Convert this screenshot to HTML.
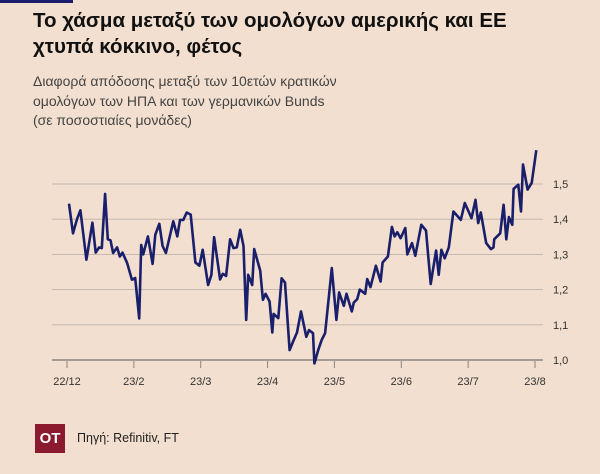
<!DOCTYPE html>
<html><head><meta charset="utf-8"><style>
body{margin:0;background:#f2dfcf;}
#wrap{position:relative;width:600px;height:474px;background:#f2dfcf;font-family:"Liberation Sans","DejaVu Sans",sans-serif;overflow:hidden}
.t{position:absolute;white-space:nowrap}
</style></head><body>
<div id="wrap">
<div class="t" style="left:0;top:0;width:73px;height:3px;background:#1a1f6b"></div>
<div class="t" style="left:33px;top:8px;font-size:20.5px;font-weight:bold;line-height:26px;color:#111">Το χάσμα μεταξύ των ομολόγων αμερικής και ΕΕ<br>χτυπά κόκκινο, φέτος</div>
<div class="t" style="left:33px;top:72px;font-size:14px;line-height:19.5px;color:#444">Διαφορά απόδοσης μεταξύ των 10ετών κρατικών<br>ομολόγων των ΗΠΑ και των γερμανικών Bunds<br>(σε ποσοστιαίες μονάδες)</div>
<svg id="chart" width="600" height="474" style="position:absolute;left:0;top:0"></svg>
<div class="t" style="left:35px;top:424px;width:30px;height:29px;background:#8b1a2f;color:#fff;font-weight:bold;font-size:15px;line-height:29px;text-align:center">OT</div>
<div class="t" style="left:77px;top:431px;font-size:12.5px;color:#222">Πηγή: Refinitiv, FT</div>
</div>
<script>
const monthLabels=["22/12","23/2","23/3","23/4","23/5","23/6","23/7","23/8"];
const yTicks=[1.0,1.1,1.2,1.3,1.4,1.5];
const months=[0.03,0.09,0.15,0.20,0.29,0.38,0.43,0.48,0.52,0.57,0.61,0.65,0.69,0.75,0.79,0.83,0.90,0.97,1.02,1.08,1.11,1.14,1.21,1.28,1.32,1.38,1.43,1.48,1.59,1.65,1.69,1.74,1.79,1.85,1.92,1.98,2.03,2.11,2.16,2.20,2.29,2.33,2.38,2.44,2.49,2.54,2.59,2.64,2.68,2.71,2.77,2.80,2.89,2.93,2.97,3.03,3.07,3.09,3.16,3.21,3.26,3.33,3.38,3.44,3.50,3.58,3.62,3.68,3.70,3.76,3.81,3.86,3.96,4.03,4.07,4.14,4.18,4.26,4.29,4.34,4.38,4.46,4.49,4.54,4.62,4.69,4.72,4.80,4.86,4.90,4.94,4.99,5.06,5.09,5.16,5.21,5.30,5.37,5.44,5.52,5.56,5.60,5.65,5.71,5.78,5.89,5.95,6.05,6.11,6.15,6.19,6.27,6.34,6.38,6.39,6.48,6.53,6.57,6.61,6.66,6.68,6.75,6.79,6.82,6.89,6.95,7.02];
const spread=[1.444,1.36,1.40,1.425,1.285,1.39,1.305,1.32,1.318,1.472,1.343,1.34,1.304,1.32,1.294,1.305,1.275,1.228,1.233,1.118,1.327,1.30,1.351,1.273,1.356,1.387,1.324,1.304,1.394,1.351,1.398,1.398,1.419,1.413,1.277,1.268,1.313,1.213,1.242,1.349,1.229,1.245,1.239,1.343,1.318,1.32,1.37,1.324,1.114,1.242,1.213,1.315,1.254,1.171,1.188,1.166,1.078,1.131,1.119,1.232,1.22,1.028,1.052,1.078,1.138,1.066,1.085,1.076,0.99,1.03,1.057,1.076,1.261,1.114,1.192,1.154,1.188,1.138,1.163,1.173,1.20,1.188,1.23,1.207,1.268,1.223,1.277,1.294,1.378,1.351,1.363,1.346,1.375,1.30,1.332,1.296,1.384,1.368,1.216,1.311,1.242,1.313,1.289,1.32,1.422,1.398,1.446,1.403,1.455,1.389,1.419,1.332,1.315,1.32,1.343,1.36,1.441,1.343,1.406,1.384,1.486,1.498,1.422,1.555,1.484,1.503,1.596];
const svg=document.getElementById('chart');const NS='http://www.w3.org/2000/svg';
const X0=67,X1=535,Y0=360,Y1=184;
const xs=m=>X0+m*(X1-X0)/7;
const ys=v=>Y0-(v-1.0)*(Y0-Y1)/0.5;
function mk(tag,attrs){const e=document.createElementNS(NS,tag);for(const k in attrs)e.setAttribute(k,attrs[k]);svg.appendChild(e);return e;}
yTicks.forEach(v=>{
 const l=mk('line',{x1:52,x2:543,y1:ys(v),y2:ys(v),stroke:v===1.0?'#8a8580':'#bdb5ad','stroke-width':v===1.0?1.6:0.9});
 
 
 const t=mk('text',{x:553,y:ys(v)+4,'font-size':11,fill:'#333','font-family':'Liberation Sans, sans-serif'});
 t.textContent=v.toFixed(1).replace('.',',');
 
 
});
monthLabels.forEach((lab,i)=>{
 const tk=mk('line',{x1:xs(i),x2:xs(i),y1:361,y2:368,stroke:'#8a8580','stroke-width':1});
 
 
 const t=mk('text',{x:xs(i),y:385,'font-size':11,fill:'#333','text-anchor':'middle','font-family':'Liberation Sans, sans-serif'});
 t.textContent=lab;
 
 
});
const p=mk('polyline',{points:months.map((m,i)=>xs(m).toFixed(1)+','+ys(spread[i]).toFixed(1)).join(' '),fill:'none',stroke:'#1a1f6b','stroke-width':2.6,'stroke-linejoin':'round'});


</script>
</body></html>
